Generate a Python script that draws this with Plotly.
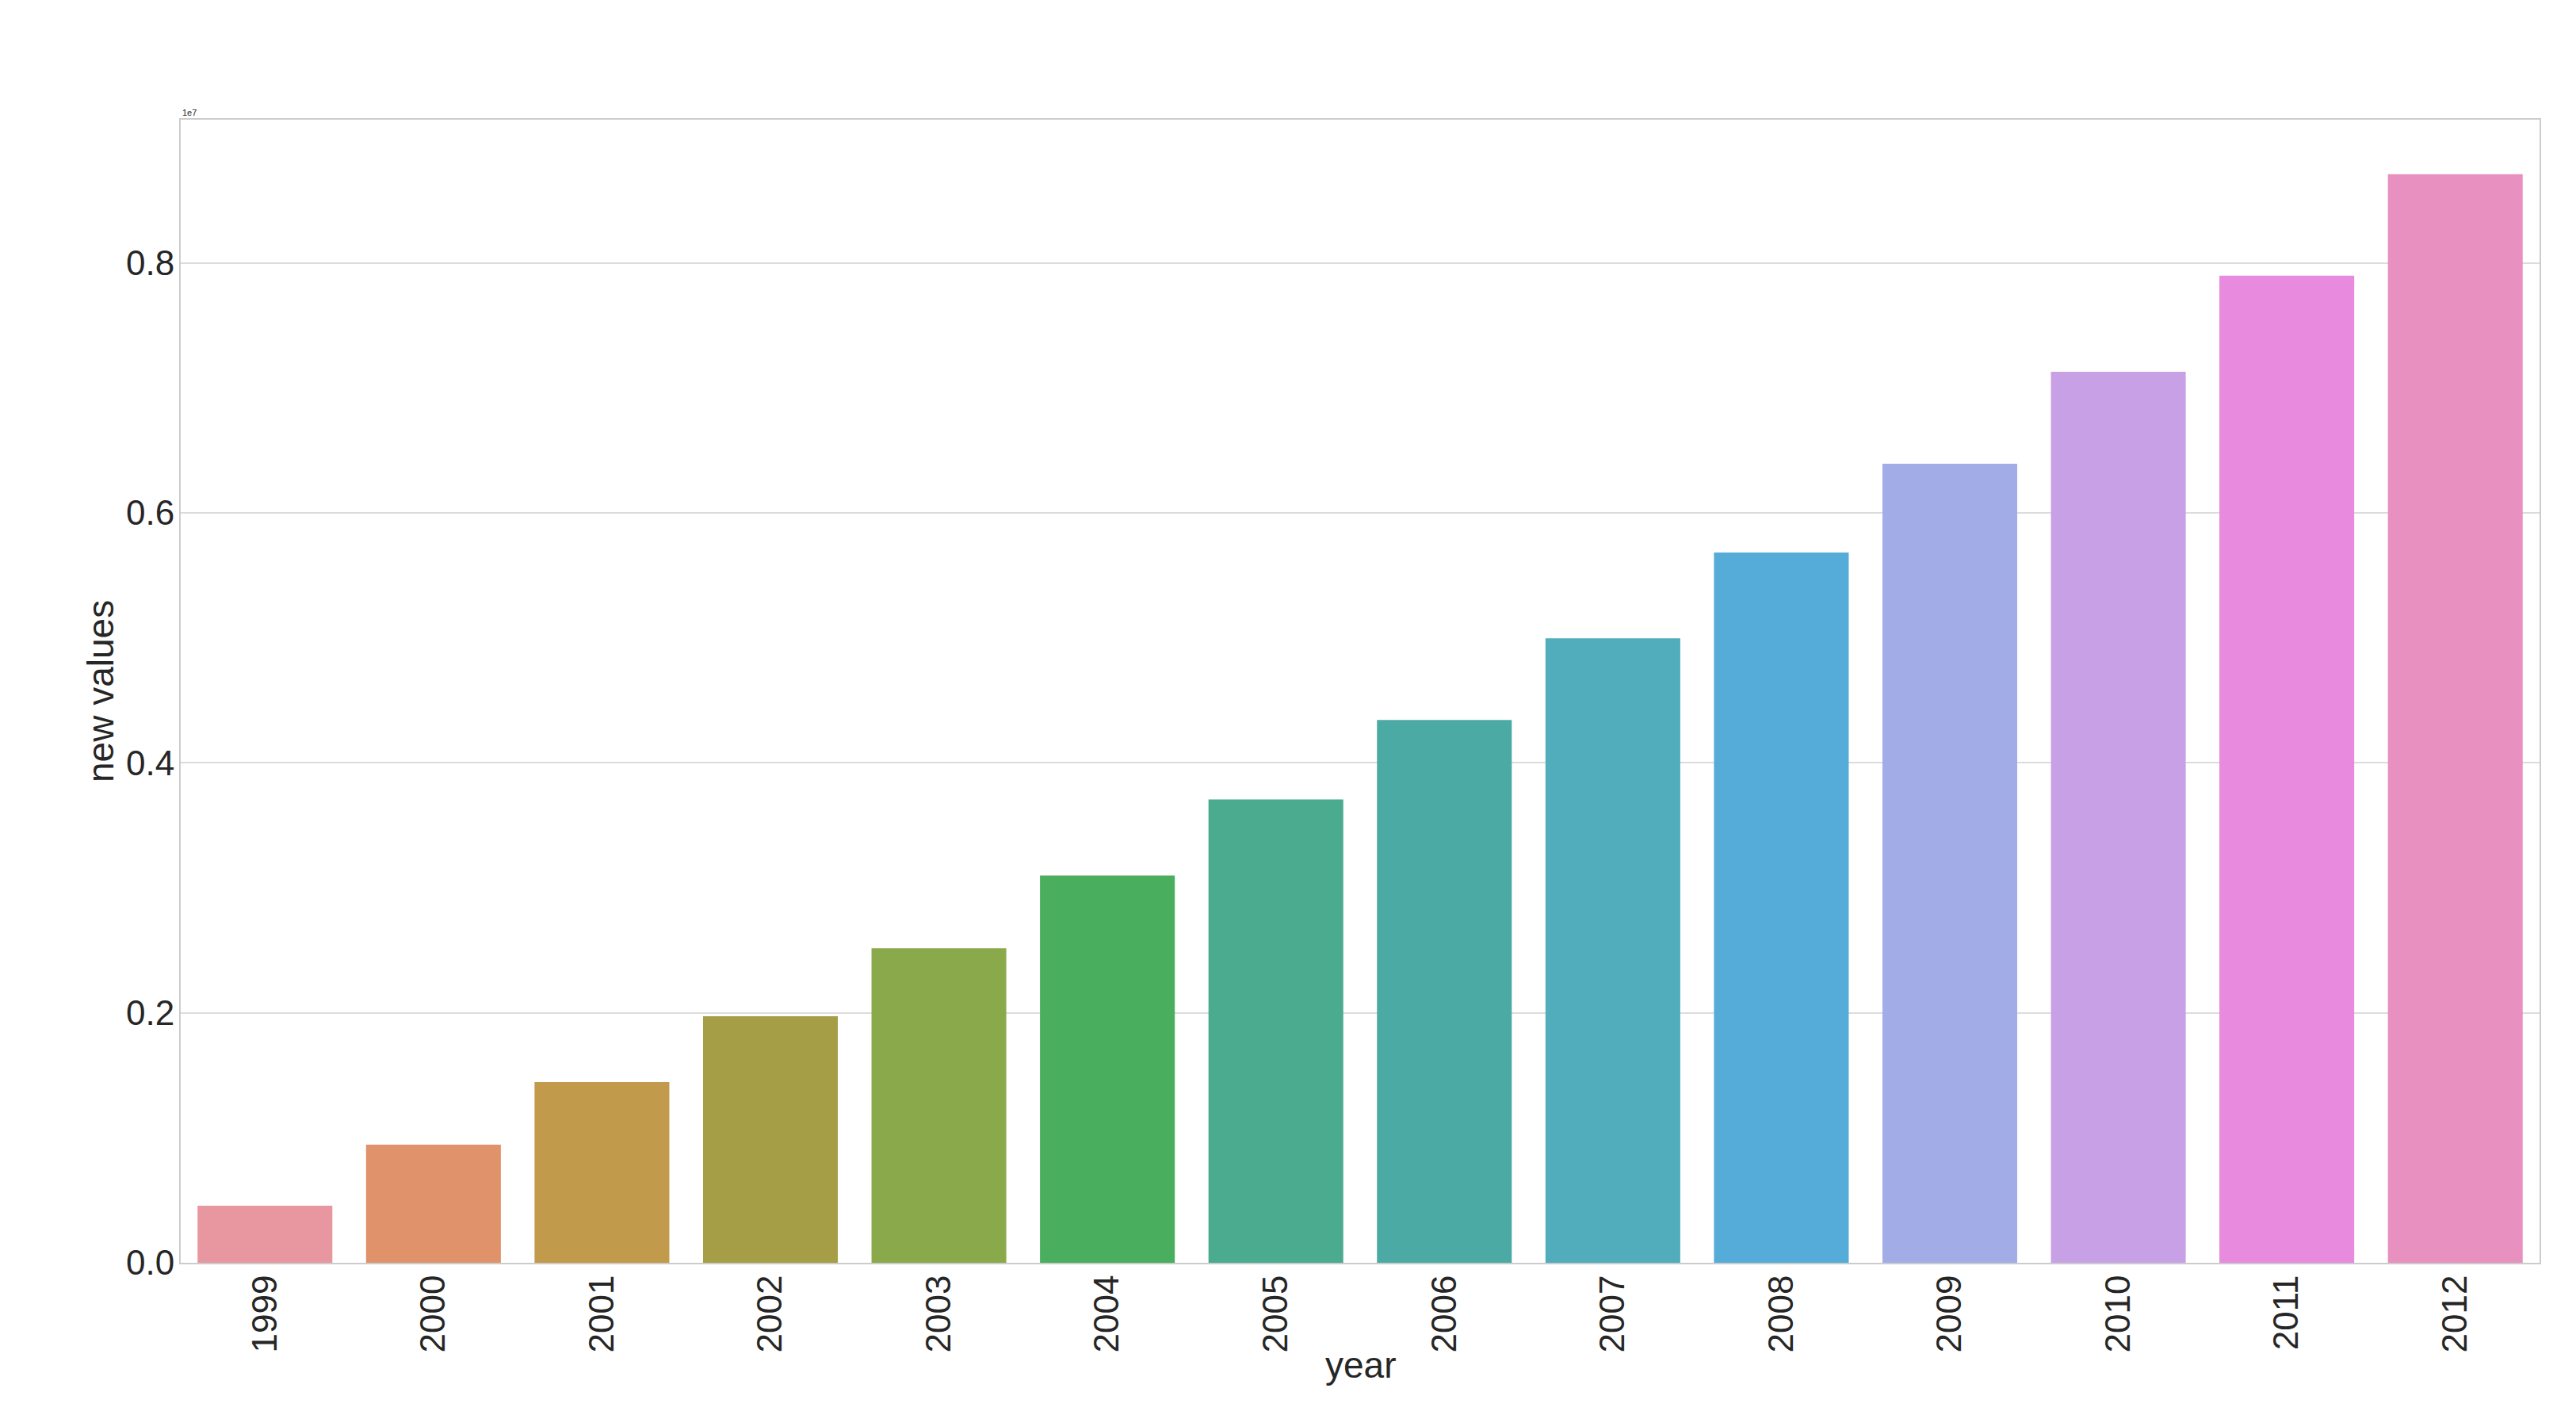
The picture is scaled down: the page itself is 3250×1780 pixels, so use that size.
import plotly.graph_objects as go

years = ["1999", "2000", "2001", "2002", "2003", "2004", "2005",
         "2006", "2007", "2008", "2009", "2010", "2011", "2012"]
new_values = [0.457e6, 0.945e6, 1.446e6, 1.972e6, 2.517e6, 3.098e6, 3.708e6,
              4.343e6, 4.997e6, 5.683e6, 6.394e6, 7.130e6, 7.898e6, 8.711e6]
bar_colors = ["#e8969f", "#e0936b", "#c19a4b", "#a69e46", "#8aa94b", "#4aae5f",
              "#4aab8e", "#4caaa4", "#51adbb", "#56acd8", "#a2ade8", "#c8a0e6",
              "#e88ade", "#e891c0"]
y_ticks = [0, 0.2e7, 0.4e7, 0.6e7, 0.8e7]
y_tick_labels = ["0.0", "0.2", "0.4", "0.6", "0.8"]

FONT = "Liberation Sans, Arial, sans-serif"
TXT = "#262626"
GRID = "#dcdcdc"

OFF = 8  # default page body margin
W, H = 3250 - OFF, 1780 - OFF
ml, mr, mt, mb = 228 - OFF, 46, 151 - OFF, 187
pw = W - ml - mr
ph = H - mt - mb

fig = go.Figure(go.Bar(
    x=years, y=new_values, marker=dict(color=bar_colors, line=dict(width=0)),
    width=0.8,
))

fig.update_layout(
    width=W, height=H,
    margin=dict(l=ml, r=mr, t=mt, b=mb),
    paper_bgcolor="white", plot_bgcolor="white",
    showlegend=False,
    font=dict(family=FONT, color=TXT),
    xaxis=dict(
        type="category", range=[-0.5, len(years) - 0.5],
        tickangle=-90, tickfont=dict(size=44, color=TXT, family=FONT),
        showgrid=False, showline=True, linecolor="#cccccc", linewidth=2, mirror=True,
        ticks="", ticklabelstandoff=-4,
    ),
    yaxis=dict(
        range=[0, max(new_values) * 1.05],
        tickvals=y_ticks, ticktext=y_tick_labels,
        tickfont=dict(size=44, color=TXT, family=FONT),
        showgrid=True, gridcolor=GRID, gridwidth=2,
        showline=True, linecolor="#cccccc", linewidth=2, mirror=True,
        zeroline=False, ticks="", ticklabelstandoff=-3,
    ),
    annotations=[
        dict(text="year", xref="paper", yref="paper",
             x=0.5, y=(1780 - 1722 - mb) / ph, xanchor="center", yanchor="middle",
             showarrow=False, font=dict(size=46, color=TXT, family=FONT)),
        dict(text="new values", xref="paper", yref="paper",
             x=(127 - 228) / pw, y=0.5, xanchor="center", yanchor="middle",
             textangle=-90, showarrow=False, font=dict(size=46, color=TXT, family=FONT)),
        dict(text="1e7", xref="paper", yref="paper",
             x=0, y=1.0, xanchor="left", yanchor="bottom", yshift=1,
             showarrow=False, font=dict(size=11, color=TXT, family=FONT)),
    ],
)

fig.write_html("out.html")
